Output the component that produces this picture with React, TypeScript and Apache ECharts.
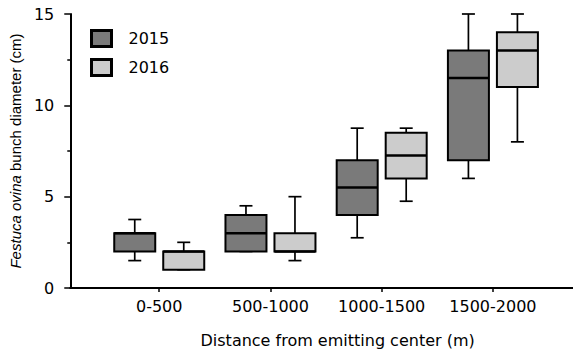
import React, { useEffect, useRef } from "react";
import * as echarts from "echarts";

const categories = ["0-500", "500-1000", "1000-1500", "1500-2000"];
const seriesNames = ["2015", "2016"];
// [min, Q1, median, Q3, max]
const values2015 = [
  [1.5, 2, 3, 3, 3.75],
  [2, 2, 3, 4, 4.5],
  [2.75, 4, 5.5, 7, 8.75],
  [6, 7, 11.5, 13, 15],
];
const values2016 = [
  [1, 1, 2, 2, 2.5],
  [1.5, 2, 2, 3, 5],
  [4.75, 6, 7.25, 8.5, 8.75],
  [8, 11, 13, 14, 15],
];
const yTicks = [0, 5, 10, 15];

const FONT = "DejaVu Sans";

function makeRender(offset: number) {
  return (params: any, api: any) => {
    const x = api.value(0);
    const cx = api.coord([x, 0])[0] + offset;
    const y = (i: number) => api.coord([x, api.value(i)])[1];
    const yMin = y(1), yQ1 = y(2), yMed = y(3), yQ3 = y(4), yMax = y(5);
    const half = 20.5;
    const cap = 6.5;
    const color = api.visual("color");
    const ls = { stroke: "#000", lineWidth: 1.7 };
    return {
      type: "group",
      children: [
        { type: "line", shape: { x1: cx, y1: yQ3, x2: cx, y2: yMax }, style: ls },
        { type: "line", shape: { x1: cx - cap, y1: yMax, x2: cx + cap, y2: yMax }, style: ls },
        { type: "line", shape: { x1: cx, y1: yQ1, x2: cx, y2: yMin }, style: ls },
        { type: "line", shape: { x1: cx - cap, y1: yMin, x2: cx + cap, y2: yMin }, style: ls },
        {
          type: "rect",
          shape: { x: cx - half, y: yQ3, width: half * 2, height: yQ1 - yQ3 },
          style: { fill: color, stroke: "#000", lineWidth: 2 },
        },
        { type: "line", shape: { x1: cx - half, y1: yMed, x2: cx + half, y2: yMed }, style: { stroke: "#000", lineWidth: 2.4 } },
      ],
    };
  };
}

export default function App() {
  const ref = useRef<HTMLDivElement>(null);
  useEffect(() => {
    if (!ref.current) return;
    const chart = echarts.init(ref.current, undefined, { renderer: "svg" });
    const colors = ["#7a7a7a", "#cccccc"];
    const all = [values2015, values2016];
    chart.setOption({
      animation: false,
      textStyle: { fontFamily: FONT },
      grid: { left: 69, right: 0, top: 14, bottom: 66 },
      legend: {
        data: seriesNames,
        orient: "vertical",
        left: 90,
        top: 29,
        padding: 0,
        itemWidth: 20,
        itemHeight: 16,
        itemGap: 10,
        icon: "rect",
        itemStyle: { borderColor: "#000", borderWidth: 3 },
        textStyle: { fontSize: 16, color: "#000", fontFamily: FONT, padding: [0, 0, 0, 12] },
      },
      xAxis: {
        type: "value",
        min: 0.2,
        max: 4.72,
        splitLine: { show: false },
        axisLine: { show: true, lineStyle: { color: "#000", width: 2 } },
        axisTick: { show: true, customValues: [1, 2, 3, 4], length: 4, lineStyle: { color: "#000", width: 1.5 } },
        axisLabel: {
          customValues: [1, 2, 3, 4],
          formatter: (v: number) => categories[Math.round(v) - 1] ?? "",
          fontSize: 16,
          color: "#000",
          margin: 10,
          fontFamily: FONT,
        },
        name: "Distance from emitting center (m)",
        nameLocation: "middle",
        nameGap: 44,
        nameTextStyle: { fontSize: 16, color: "#000", fontFamily: FONT, padding: [0, 0, 0, 32] },
      },
      yAxis: {
        type: "value",
        min: yTicks[0],
        max: yTicks[yTicks.length - 1],
        interval: 5,
        splitLine: { show: false },
        axisLine: { show: true, lineStyle: { color: "#000", width: 2 } },
        axisTick: { show: true, length: 6, lineStyle: { color: "#000", width: 1.5 } },
        minorTick: { show: true, splitNumber: 2, length: 3, lineStyle: { color: "#000", width: 1.5 } },
        axisLabel: { fontSize: 16, color: "#000", margin: 16, fontFamily: FONT },
        name: "{i|Festuca ovina} bunch diameter (cm)",
        nameLocation: "middle",
        nameGap: 35,
        nameTextStyle: {
          fontSize: 15,
          color: "#000",
          fontFamily: "Liberation Sans",
          rich: {
            i: { fontStyle: "italic", fontSize: 15, fontFamily: "Liberation Sans", color: "#000" },
          },
        },
      },
      series: seriesNames.map((name, si) => ({
        name,
        type: "custom",
        itemStyle: { color: colors[si] },
        renderItem: makeRender(si === 0 ? -24.5 : 24.5),
        encode: { x: 0, y: [1, 2, 3, 4, 5] },
        data: all[si].map((d, i) => [i + 1, ...d]),
      })),
    });
    return () => chart.dispose();
  }, []);
  return <div ref={ref} style={{ width: 573, height: 354, position: "absolute", left: 0, top: 0 }} />;
}
